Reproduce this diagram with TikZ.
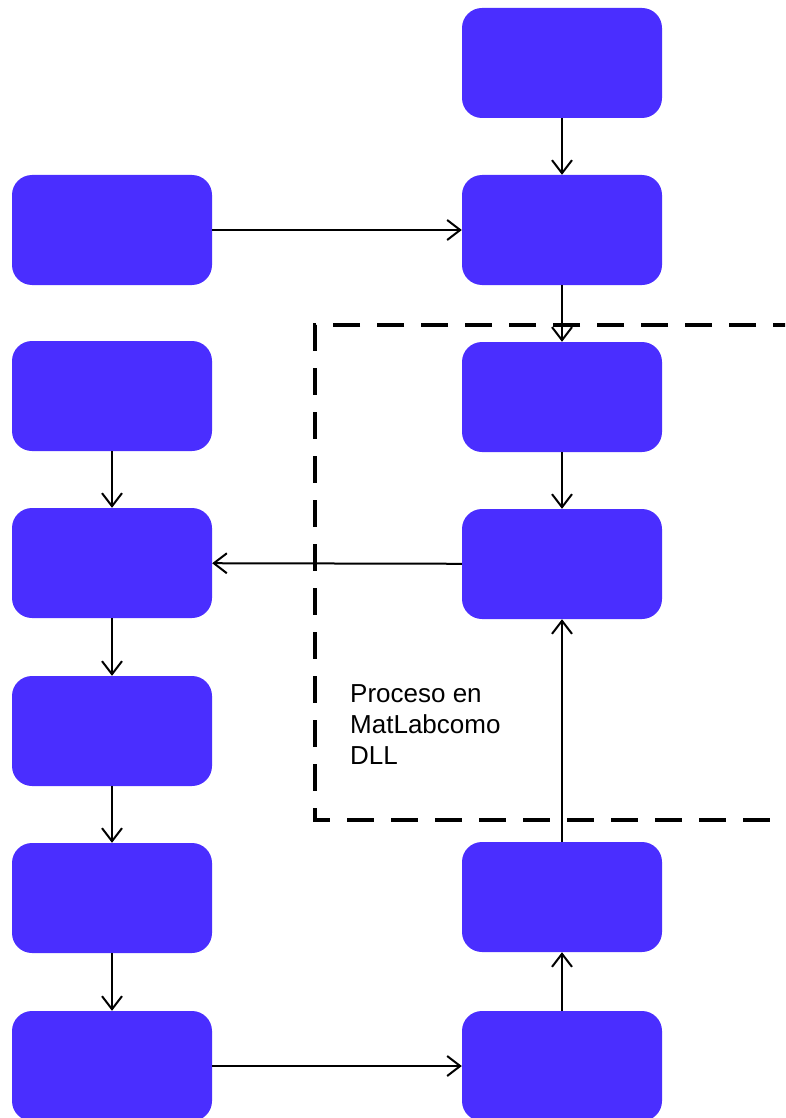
\documentclass[tikz,border=0pt]{standalone}
\usepackage{fontspec}
\setmainfont{Liberation Sans}
\usetikzlibrary{arrows.meta}
\definecolor{boxblue}{HTML}{4A2EFF}
\begin{document}
\begin{tikzpicture}[x=1pt,y=-1pt,
  blk/.style={fill=boxblue,draw=none,rounded corners=20pt,
    minimum width=200pt,minimum height=110pt,inner sep=0pt},
  flow/.style={line width=2pt,-{Straight Barb[length=13pt,width=20pt,line width=2pt]}},
  frame/.style={line width=4pt,dash pattern=on 27pt off 17pt}]
\useasboundingbox (0,0) rectangle (785,1118);
\clip (0,0) rectangle (785,1118);
% right column
\node[blk] (r1) at (562,63) {};
\node[blk] (r2) at (562,230) {};
\node[blk] (r3) at (562,397) {};
\node[blk] (r4) at (562,564) {};
\node[blk] (r6) at (562,897) {};
\node[blk] (r7) at (562,1066) {};
% left column
\node[blk] (l2) at (112,230) {};
\node[blk] (l3) at (112,396) {};
\node[blk] (l4) at (112,563) {};
\node[blk] (l5) at (112,731) {};
\node[blk] (l6) at (112,898) {};
\node[blk] (l7) at (112,1066) {};
% dashed frame of the DLL part
\draw[frame] (800,325) -- (315,325) -- (315,820) -- (800,820);
\node[anchor=north west,align=left,font=\fontsize{26pt}{31pt}\selectfont,inner sep=0pt]
  (lbl) at (350,684) {Proceso en\\MatLabcomo\\DLL};
% connectors
\draw[flow] (r1) -- (r2);
\draw[flow] (l2) -- (r2);
\draw[flow] (r2) -- (r3);
\draw[flow] (r3) -- (r4);
\draw[flow] (r4) -- (l4);
\draw[flow] (l3) -- (l4);
\draw[flow] (l4) -- (l5);
\draw[flow] (l5) -- (l6);
\draw[flow] (l6) -- (l7);
\draw[flow] (l7) -- (r7);
\draw[flow] (r7) -- (r6);
\draw[flow] (r6) -- (r4);
\end{tikzpicture}
\end{document}
